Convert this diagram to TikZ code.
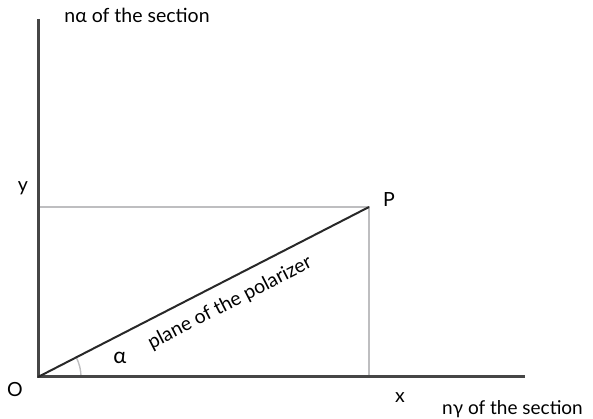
\documentclass[tikz,border=0pt]{standalone}
\usepackage{fontspec}
\setmainfont{Lato}
\usetikzlibrary{calc}
\definecolor{ink}{RGB}{40,40,40}
\definecolor{axis}{RGB}{70,70,70}
\definecolor{guide}{RGB}{190,190,192}

\begin{document}
\begin{tikzpicture}[x=1pt, y=1pt, font=\fontsize{19.5}{22}\selectfont]
\useasboundingbox (0,0) rectangle (593,419);
% points
\coordinate (O) at (38,42);
\coordinate (P) at (369,212);
\coordinate (ytop) at (38,400);
\coordinate (xend) at (525,42);
\coordinate (yfoot) at (38,212);
\coordinate (xfoot) at (369,42);
% guides
\draw[guide, line width=1.8pt] (yfoot) -- (P) -- (xfoot);
% angle
\draw[guide, line width=1.4pt] ($(O)+(43,0)$) arc[start angle=0, end angle=27.2, radius=43];
% axes
\draw[axis, line width=3pt] (ytop) -- (O) -- (xend);
% polarizer
\draw[ink, line width=2pt] (O) -- (P);
% labels
\node (lo) at (15,29) {O};
\node (lp) at (389,219) {P};
\node (ly) at (23,231) {y};
\node (lx) at (400,21) {x};
\node[font=\fontsize{22}{24}\selectfont] (la) at (120,61) {α};
\node (lyax) at (137,404) {nα of the section};
\node[anchor=east, inner sep=0pt, font=\fontsize{19}{22}\selectfont] (lxax) at (583,10) {nγ of the section};
\node[rotate=27.2] (lpl) at (230,116) {plane of the polarizer};
\end{tikzpicture}
\end{document}
